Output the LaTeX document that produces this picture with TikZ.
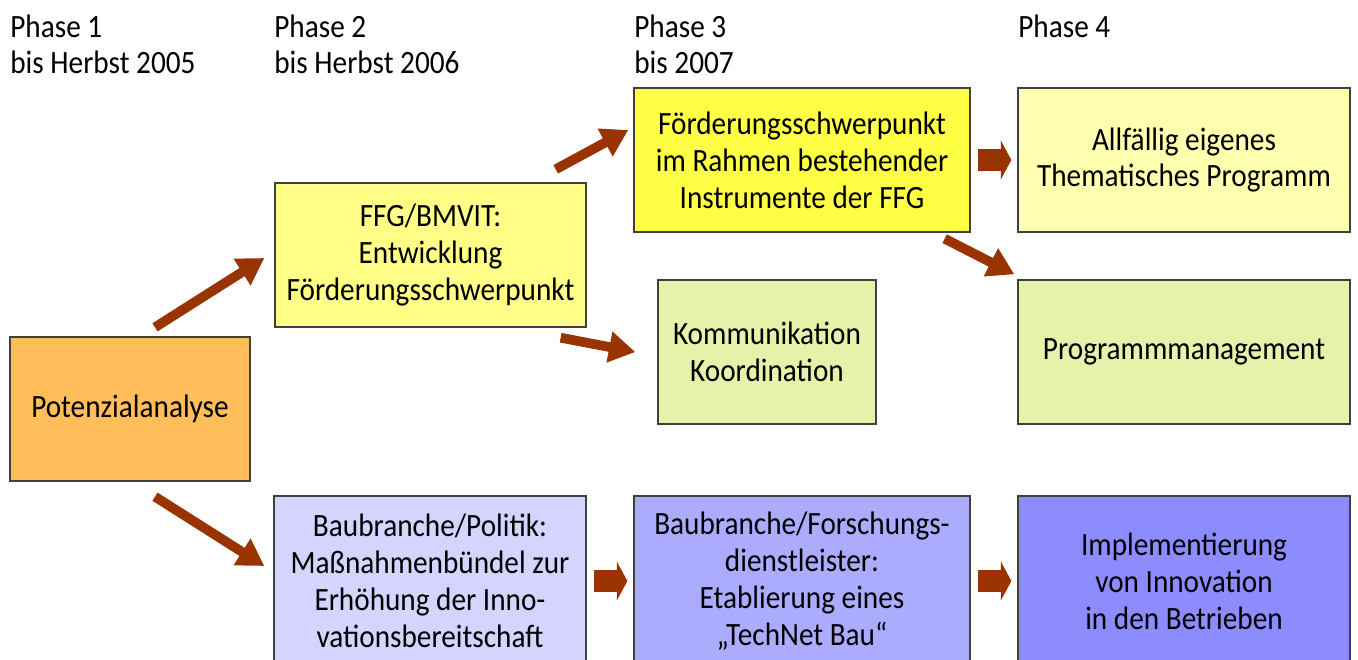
\documentclass[tikz,border=0pt]{standalone}
\usepackage{fontspec}
\setmainfont{Carlito}[FakeStretch=0.9]
\usetikzlibrary{arrows.meta,calc}

\definecolor{pfeilrot}{RGB}{153,51,0}
\definecolor{orangefill}{RGB}{255,190,90}
\definecolor{gelbhell}{RGB}{255,255,135}
\definecolor{gelbstark}{RGB}{255,255,70}
\definecolor{gelbblass}{RGB}{255,255,175}
\definecolor{gruenfill}{RGB}{228,242,170}
\definecolor{blauhell}{RGB}{212,212,255}
\definecolor{blaumittel}{RGB}{172,172,255}
\definecolor{blaustark}{RGB}{140,140,255}

\tikzset{
  box/.style={draw=black!75, line width=0.8pt, align=center, inner sep=0pt,
    font=\fontsize{18.5}{21}\selectfont},
  phase/.style={anchor=north west, align=left, inner sep=0pt,
    font=\fontsize{18.5}{20.4}\selectfont},
  pfeil/.style={draw=pfeilrot, line width=5.5pt, -{Triangle[length=15pt,width=17pt]}},
  blockpfeil/.style={draw=pfeilrot, line width=12pt, -{Triangle[length=6pt,width=22pt]},
    shorten <=4pt, shorten >=3.4pt}
}

\begin{document}
\begin{tikzpicture}[x=0.02cm, y=-0.02cm]
\path[use as bounding box, clip] (0,0) rectangle (1358,659);

% Phasen
\node[phase] (ph1) at (10,15) {Phase 1\\bis Herbst 2005};
\node[phase] (ph2) at (274,15) {Phase 2\\bis Herbst 2006};
\node[phase] (ph3) at (634,15) {Phase 3\\bis 2007};
\node[phase] (ph4) at (1018,15) {Phase 4};

% Kaesten
\node[box, fill=orangefill, minimum width=4.8cm, minimum height=2.88cm] (pot) at (130,409) {Potenzialanalyse};
\node[box, fill=gelbhell, minimum width=6.22cm, minimum height=2.88cm] (ffg) at (430.5,255) {FFG/BMVIT:\\Entwicklung\\Förderungsschwerpunkt};
\node[box, fill=gelbstark, minimum width=6.72cm, minimum height=2.88cm] (foerd) at (802,160) {Förderungsschwerpunkt\\im Rahmen bestehender\\Instrumente der FFG};
\node[box, fill=gelbblass, minimum width=6.64cm, minimum height=2.88cm] (allf) at (1184,160) {Allfällig eigenes\\Thematisches Programm};
\node[box, fill=gruenfill, minimum width=4.36cm, minimum height=2.88cm] (komm) at (767,352) {Kommunikation\\Koordination};
\node[box, fill=gruenfill, minimum width=6.64cm, minimum height=2.88cm] (prog) at (1184,352) {Programmmanagement};
\node[box, fill=blauhell, minimum width=6.24cm, minimum height=3.4cm] (bau) at (430,581) {Baubranche/Politik:\\Maßnahmenbündel zur\\Erhöhung der Inno-\\vationsbereitschaft};
\node[box, fill=blaumittel, minimum width=6.72cm, minimum height=3.4cm] (tech) at (802,581) {Baubranche/Forschungs-\\dienstleister:\\Etablierung eines\\„TechNet Bau“};
\node[box, fill=blaustark, minimum width=6.64cm, minimum height=3.4cm] (impl) at (1184,581) {Implementierung\\von Innovation\\in den Betrieben};

% Pfeile
\draw[pfeil] ($(pot.north)+(25,-9)$) -- ($(ffg.west)+(-10,3)$);
\draw[pfeil] ($(pot.south)+(25,15)$) -- ($(bau.west)+(-9,-15)$);
\draw[pfeil] ($(ffg.north east)+(-31,-13)$) -- ($(foerd.west)+(-5,-30)$);
\draw[pfeil] ($(ffg.south east)+(-26,10)$) -- ($(komm.west)+(-22,0)$);
\draw[pfeil] ($(foerd.south east)+(-26,6)$) -- ($(prog.north west)+(-3,-5)$);
\draw[blockpfeil] (foerd) -- (allf);
\draw[blockpfeil] (bau) -- (tech);
\draw[blockpfeil] (tech) -- (impl);
\end{tikzpicture}
\end{document}
